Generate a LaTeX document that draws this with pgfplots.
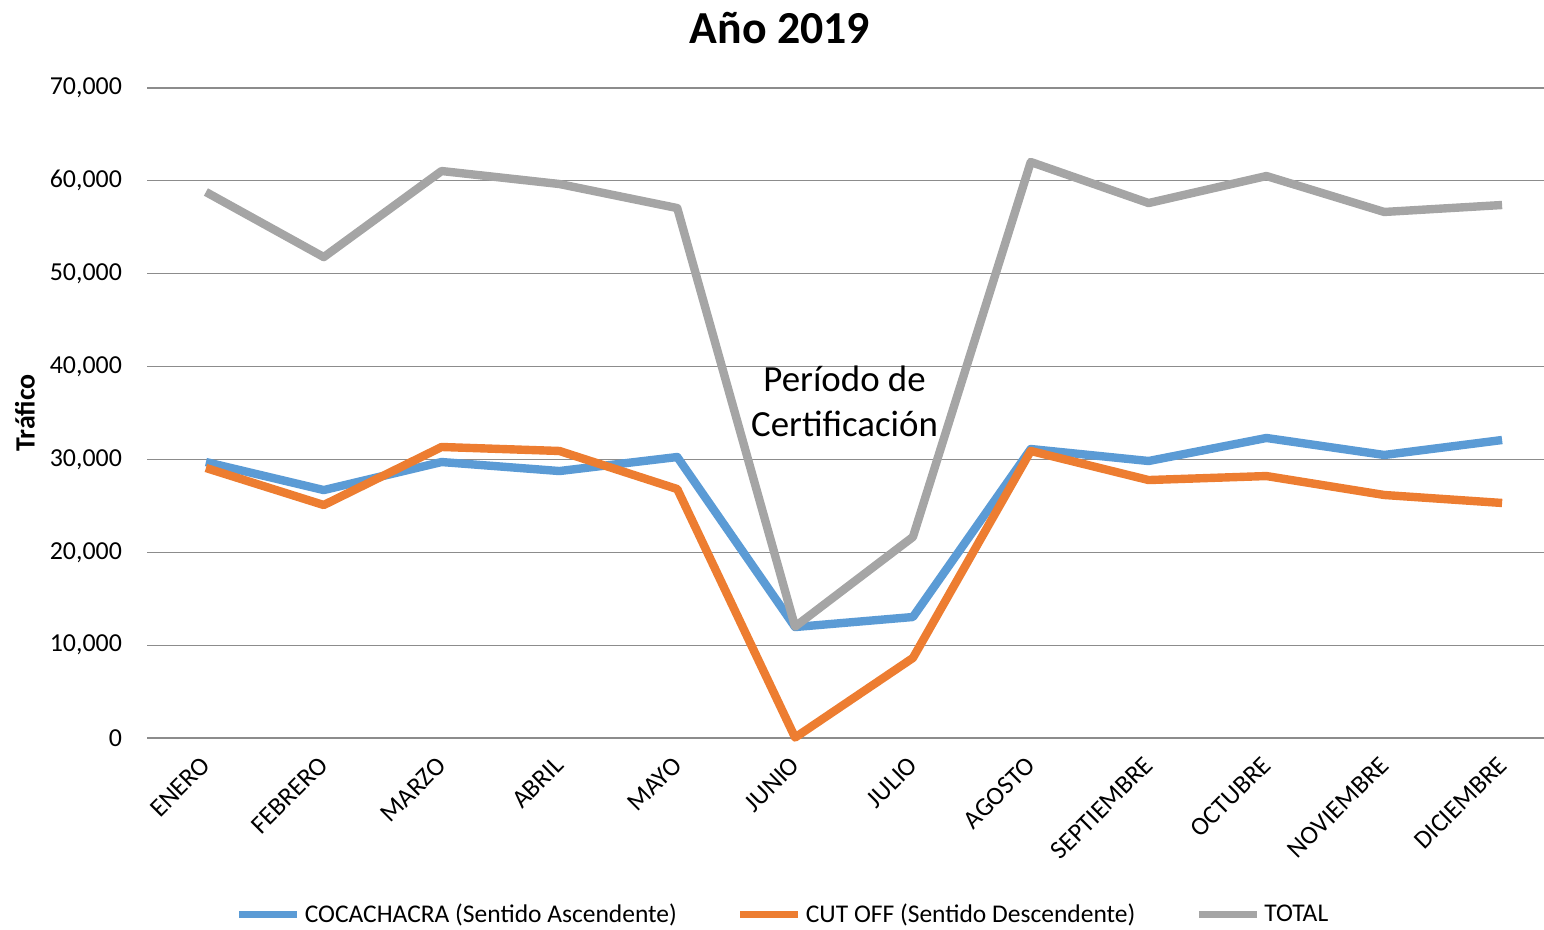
\documentclass[border=0pt]{standalone}
\usepackage{pgfplots}
\pgfplotsset{compat=1.18}
\usepackage{fontspec}
\setmainfont{Carlito}
\definecolor{cblue}{RGB}{91,155,213}
\definecolor{corange}{RGB}{237,125,49}
\definecolor{cgray}{RGB}{165,165,165}
\definecolor{gridc}{RGB}{140,140,140}

\pgfplotstableread{
x coca cut total
0 29720 29080 58800
1 26700 25090 51790
2 29720 31340 61060
3 28750 30910 59660
4 30260 26810 57070
5 11950 50 12000
6 13030 8620 21650
7 31120 30910 62030
8 29830 27780 57610
9 32310 28210 60520
10 30480 26170 56650
11 32090 25310 57400
}\datatable

\begin{document}
\begin{tikzpicture}
\useasboundingbox (0,0) rectangle (772bp,465bp);
\node[font=\fontsize{23}{27}\selectfont\bfseries] at (390bp,451bp) {Año 2019};
\begin{axis}[
    at={(73.5bp,96bp)}, anchor=south west,
    scale only axis,
    width=707bp, height=325bp,
    xmin=-0.5, xmax=11.5,
    ymin=0, ymax=70000,
    axis line style={draw=none},
    ymajorgrids,
    grid style={gridc, line width=0.6bp},
    ytick={0,10000,...,70000},
    xtick={0,...,11},
    xticklabels={ENERO,FEBRERO,MARZO,ABRIL,MAYO,JUNIO,JULIO,AGOSTO,SEPTIEMBRE,OCTUBRE,NOVIEMBRE,DICIEMBRE},
    major tick length=0pt,
    tick style={draw=none},
    tick label style={font=\fontsize{13}{15}\selectfont},
    xticklabel style={rotate=45, anchor=north east, inner sep=1bp, xshift=-7bp, yshift=-2.75bp},
    yticklabel style={xshift=-9bp},
    /pgf/number format/assume math mode=true,
    /pgf/number format/.cd, 1000 sep={,}, /pgfplots/.cd,
    scaled y ticks=false,
    ylabel={Tráfico},
    ylabel style={at={(axis description cs:-0.0863,0.5)}, anchor=center, font=\fontsize{14}{16}\selectfont\bfseries},
    legend columns=3,
    legend style={at={(axis description cs:0.4505,-0.272)}, anchor=center, draw=none, fill=none,
        font=\fontsize{12.8}{15}\selectfont,
        /tikz/every even column/.append style={column sep=28bp},
        inner sep=0pt},
    legend cell align=left,
    legend image code/.code={\draw[#1, line width=3.5bp] (0bp,0bp) -- (29bp,0bp);},
    every axis plot/.append style={line width=4.2bp, line join=round, no markers},
    clip=false,
]
\addplot[cblue] table[x=x,y=coca] {\datatable};
\addlegendentry{COCACHACRA (Sentido Ascendente)}
\addplot[corange] table[x=x,y=cut] {\datatable};
\addlegendentry{CUT OFF (Sentido Descendente)}
\addplot[cgray] table[x=x,y=total] {\datatable};
\addlegendentry{TOTAL}
\node[align=center, font=\fontsize{18.5}{22.5}\selectfont] at (axis cs:5.42,36300) {Período de\\Certificación};
\end{axis}
\end{tikzpicture}
\end{document}
